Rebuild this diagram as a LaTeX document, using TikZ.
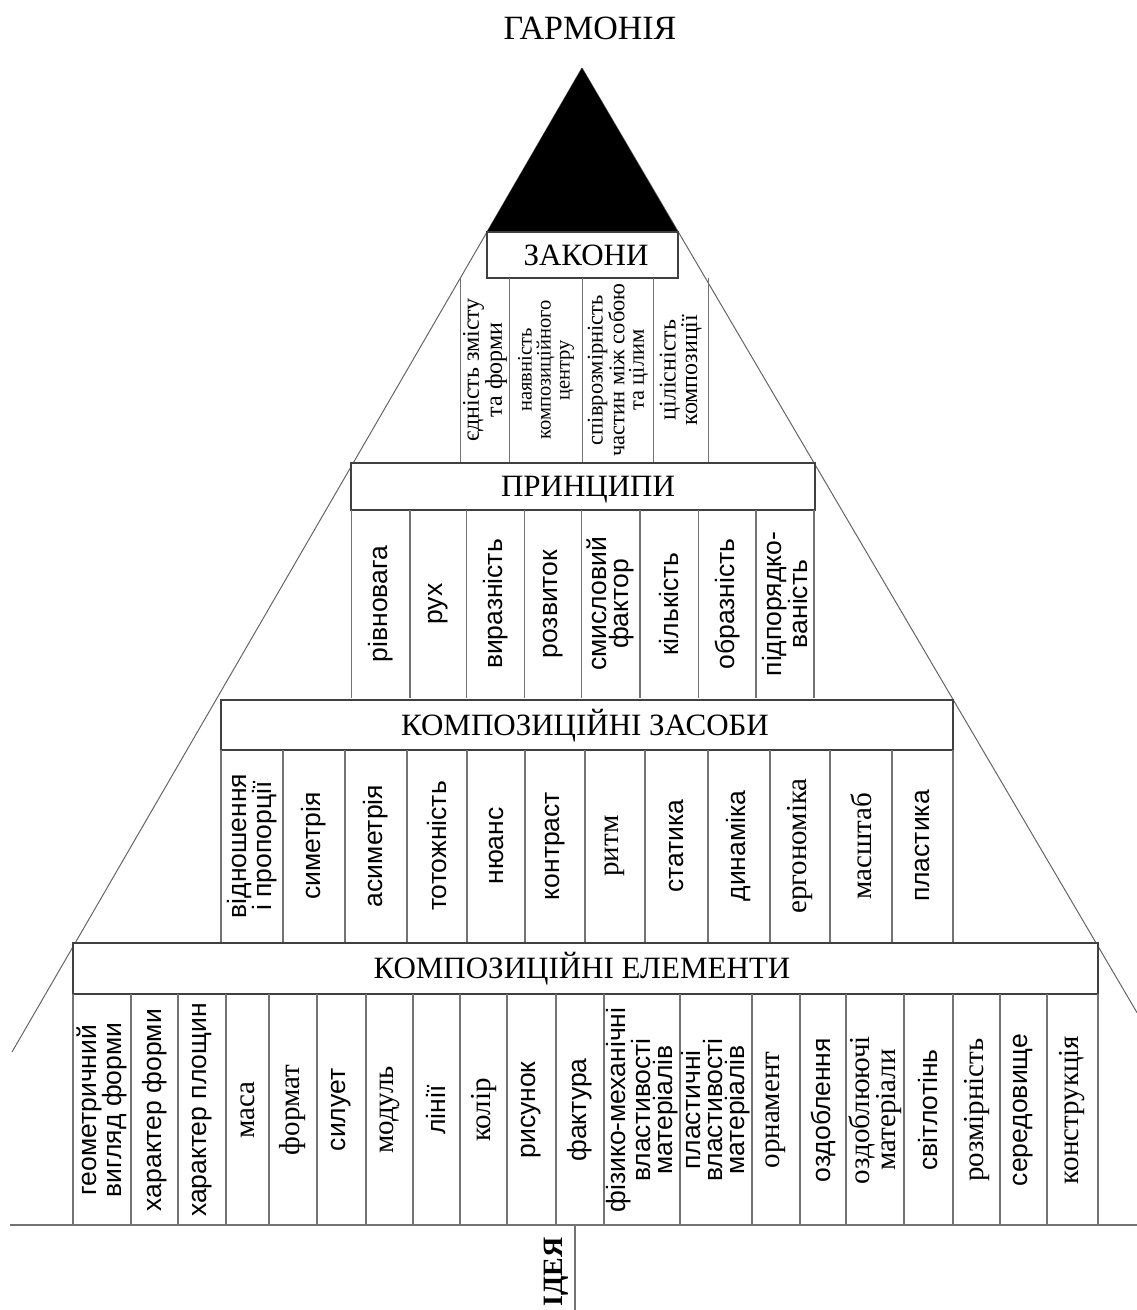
\documentclass[tikz,border=0pt]{standalone}
\usepackage{fontspec}
\setmainfont{Liberation Serif}
\newfontfamily\lsans{Liberation Sans}
\newfontfamily\lserif{Liberation Serif}

\begin{document}
\begin{tikzpicture}[x=1pt, y=-1pt,
  frame/.style={draw=black!75, line width=1.8pt, fill=white},
  sep/.style={draw=black!55, line width=1.2pt},
  edge/.style={draw=black!60, line width=1pt},
  head/.style={inner sep=0pt, text height=20.5pt, text depth=0pt, font=\fontsize{31}{31}\selectfont},
  cols/.style={rotate=90, align=center, inner sep=0pt, font=\fontsize{26.5}{22}\lsans},
  colr/.style={rotate=90, align=center, inner sep=0pt, font=\fontsize{29}{24}\lserif},
  lawa/.style={rotate=90, align=center, inner sep=0pt, font=\fontsize{24}{20}\lserif},
  lawb/.style={rotate=90, align=center, inner sep=0pt, font=\fontsize{20.5}{19}\lserif},
  lawc/.style={rotate=90, align=center, inner sep=0pt, font=\fontsize{22.5}{19.5}\lserif}]
  \useasboundingbox[fill=white] (0,0) rectangle (1137,1310);

  % pyramid
  \coordinate (apex) at (582,68);
  \draw[edge] (apex) -- (12,1052);
  \draw[edge] (apex) -- (1137,1012.6);
  \fill (apex) -- (487,232) -- (678,232) -- cycle;
  \node[font=\fontsize{34}{34}\selectfont] (harmony) at (590,28) {ГАРМОНІЯ};

  % laws
  \draw[frame] (487,232) rectangle (678,278);
  \node[head] (laws) at (586,255) {ЗАКОНИ};
  \foreach \x in {460.7,509.3,582.7,653.3,708.3} \draw[sep] (\x,278) -- (\x,462);
  \foreach \a/\b/\s/\t [count=\i] in {460.7/509.3/a/{єдність змісту\\та форми},
      509.3/582.7/b/{наявність\\композиційного\\центру},
      582.7/653.3/c/{співрозмірність\\частин між собою\\та цілим},
      653.3/708.3/a/{цілісність\\композиції}}
    \node[law\s] (law\i) at ({(\a+\b)/2},370) {\t};

  % principles
  \draw[frame] (351,463) rectangle (815,510);
  \node[head] (principles) at (588,486.5) {ПРИНЦИПИ};
  \foreach \x in {351.7,410,466.7,524.3,581.7,640,698.3,756,814} \draw[sep] (\x,510) -- (\x,698);
  \foreach \a/\b/\s/\t [count=\i] in {351.7/410/s/рівновага, 410/466.7/s/рух,
      466.7/524.3/s/виразність, 524.3/581.7/s/розвиток, 581.7/640/s/{смисловий\\фактор},
      640/698.3/s/кількість, 698.3/756/s/образність, 756/814/s/{підпорядко-\\ваність}}
    \node[col\s] (pr\i) at ({(\a+\b)/2},604) {\t};

  % means
  \draw[frame] (221,700) rectangle (953,750);
  \node[head] (means) at (585,725) {КОМПОЗИЦІЙНІ ЗАСОБИ};
  \foreach \x in {221,283,345,407,467,525,585,645,708,770,830,892,953} \draw[sep] (\x,750) -- (\x,942);
  \foreach \a/\b/\s/\t [count=\i] in {221/283/s/{відношення\\і пропорції}, 283/345/s/симетрія,
      345/407/s/асиметрія, 407/467/s/тотожність, 467/525/s/нюанс, 525/585/s/контраст,
      585/645/r/ритм, 645/708/s/статика, 708/770/s/динаміка, 770/830/r/ергономіка,
      830/892/r/масштаб, 892/953/s/пластика}
    \node[col\s] (mn\i) at ({(\a+\b)/2},846) {\t};

  % elements
  \draw[frame] (73,943) rectangle (1098,994);
  \node[head] (elements) at (582,968.5) {КОМПОЗИЦІЙНІ ЕЛЕМЕНТИ};
  \foreach \x in {73,131,178,226,269,317,366,413,460,507,556,604,680,752,800,846,904,953,1000,1047,1098}
    \draw[sep] (\x,994) -- (\x,1225);
  \foreach \a/\b/\s/\t [count=\i] in {73/131/s/{геометричний\\вигляд форми}, 131/178/s/{характер форми},
      178/226/s/{характер площин}, 226/269/r/маса, 269/317/r/формат, 317/366/s/силует,
      366/413/r/модуль, 413/460/s/лінії, 460/507/r/колір, 507/556/s/рисунок, 556/604/s/фактура,
      604/680/s/{фізико-механічні\\властивості\\матеріалів}, 680/752/s/{пластичні\\властивості\\матеріалів},
      752/800/r/орнамент, 800/846/s/оздоблення, 846/904/r/{оздоблюючі\\матеріали},
      904/953/s/світлотінь, 953/1000/r/розмірність, 1000/1047/s/середовище, 1047/1098/r/конструкція}
    \node[col\s] (el\i) at ({(\a+\b)/2},1110) {\t};

  % idea
  \draw[sep] (10,1225) -- (1137,1225);
  \coordinate (ideafoot) at (575,1310);
  \draw[sep] (575,1225) -- (ideafoot);
  \node[rotate=90, anchor=east, inner sep=0pt, font=\fontsize{28}{28}\selectfont\bfseries] (idea) at (556,1237) {ІДЕЯ};
\end{tikzpicture}
\end{document}
